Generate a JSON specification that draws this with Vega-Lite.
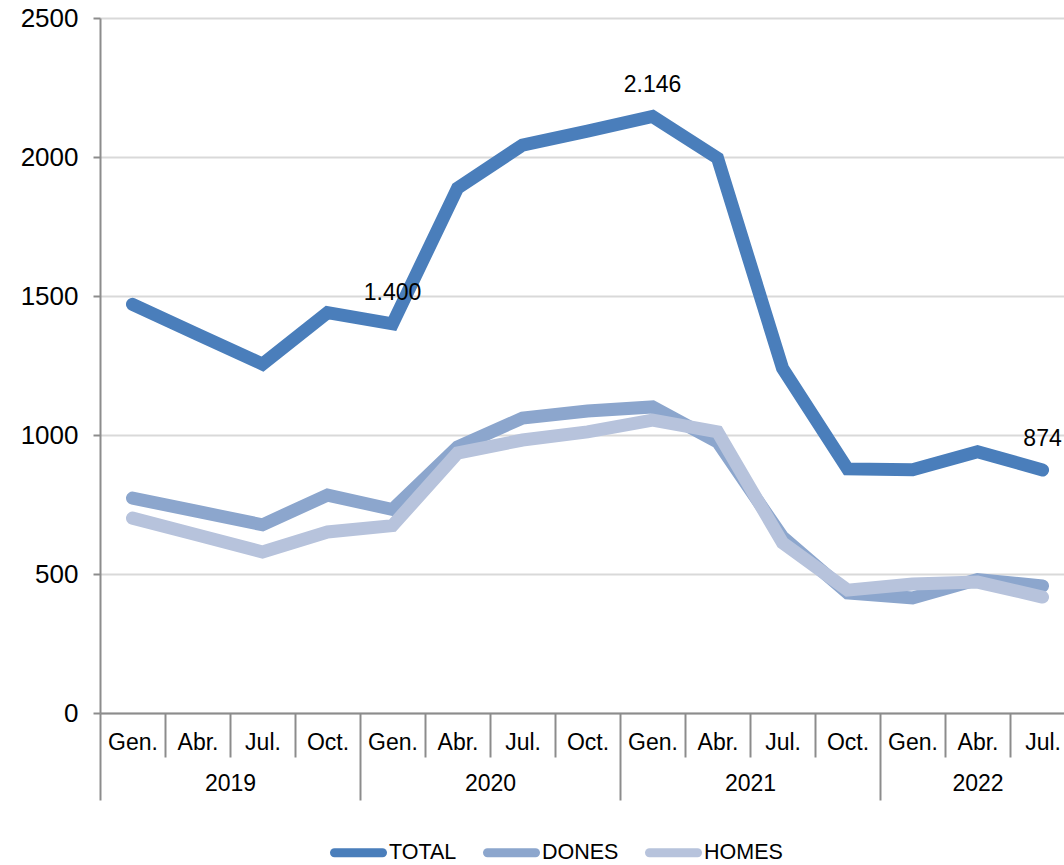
{
  "$schema": "https://vega.github.io/schema/vega-lite/v6.json",
  "autosize": {"type": "none"},
  "padding": {"left": 100, "top": 18, "right": 0, "bottom": 152},
  "width": 964,
  "height": 695,
  "config": {"view": {"stroke": null}, "font": "Liberation Sans"},
  "data": {"values": [
    {"q": 0, "series": "TOTAL", "value": 1470},
    {"q": 1, "series": "TOTAL", "value": 1362},
    {"q": 2, "series": "TOTAL", "value": 1255},
    {"q": 3, "series": "TOTAL", "value": 1440},
    {"q": 4, "series": "TOTAL", "value": 1400, "label": "1.400"},
    {"q": 5, "series": "TOTAL", "value": 1888},
    {"q": 6, "series": "TOTAL", "value": 2043},
    {"q": 7, "series": "TOTAL", "value": 2093},
    {"q": 8, "series": "TOTAL", "value": 2146, "label": "2.146"},
    {"q": 9, "series": "TOTAL", "value": 1996},
    {"q": 10, "series": "TOTAL", "value": 1240},
    {"q": 11, "series": "TOTAL", "value": 878},
    {"q": 12, "series": "TOTAL", "value": 875},
    {"q": 13, "series": "TOTAL", "value": 940},
    {"q": 14, "series": "TOTAL", "value": 874, "label": "874"},
    {"q": 0, "series": "DONES", "value": 773},
    {"q": 1, "series": "DONES", "value": 725},
    {"q": 2, "series": "DONES", "value": 677},
    {"q": 3, "series": "DONES", "value": 784},
    {"q": 4, "series": "DONES", "value": 732},
    {"q": 5, "series": "DONES", "value": 957},
    {"q": 6, "series": "DONES", "value": 1061},
    {"q": 7, "series": "DONES", "value": 1086},
    {"q": 8, "series": "DONES", "value": 1101},
    {"q": 9, "series": "DONES", "value": 975},
    {"q": 10, "series": "DONES", "value": 633},
    {"q": 11, "series": "DONES", "value": 432},
    {"q": 12, "series": "DONES", "value": 414},
    {"q": 13, "series": "DONES", "value": 480},
    {"q": 14, "series": "DONES", "value": 457},
    {"q": 0, "series": "HOMES", "value": 701},
    {"q": 1, "series": "HOMES", "value": 640},
    {"q": 2, "series": "HOMES", "value": 579},
    {"q": 3, "series": "HOMES", "value": 651},
    {"q": 4, "series": "HOMES", "value": 674},
    {"q": 5, "series": "HOMES", "value": 935},
    {"q": 6, "series": "HOMES", "value": 982},
    {"q": 7, "series": "HOMES", "value": 1011},
    {"q": 8, "series": "HOMES", "value": 1054},
    {"q": 9, "series": "HOMES", "value": 1011},
    {"q": 10, "series": "HOMES", "value": 612},
    {"q": 11, "series": "HOMES", "value": 442},
    {"q": 12, "series": "HOMES", "value": 464},
    {"q": 13, "series": "HOMES", "value": 471},
    {"q": 14, "series": "HOMES", "value": 417}
  ]},
  "encoding": {
    "y": {"field": "value", "type": "quantitative",
      "scale": {"domain": [0, 2500], "nice": false},
      "axis": {"title": null, "values": [0,500,1000,1500,2000,2500], "format": "d",
        "grid": true, "gridColor": "#d9d9d9", "gridWidth": 2,
        "domainColor": "#8c8c8c", "domainWidth": 2, "tickColor": "#8c8c8c", "tickWidth": 2, "tickSize": 7,
        "labelPadding": 15, "labelFontSize": 26, "labelColor": "#000000"}}
  },
  "resolve": {"axis": {"x": "independent"}},
  "layer": [
    {
      "mark": {"type": "line", "strokeWidth": 13, "strokeCap": "round", "strokeJoin": "miter"},
      "encoding": {
        "x": {"field": "q", "type": "quantitative",
          "scale": {"domain": [-0.5, 14.33], "nice": false, "zero": false},
          "axis": {"orient": "bottom", "title": null, "values": [0,1,2,3,4,5,6,7,8,9,10,11,12,13,14],
            "labelExpr": "['Gen.','Abr.','Jul.','Oct.'][datum.value % 4]",
            "ticks": false, "tickSize": 0, "labelPadding": 18, "grid": false,
            "domain": true, "domainColor": "#8c8c8c", "domainWidth": 2,
            "labelFontSize": 23, "labelColor": "#000000", "labelFlush": false, "labelOverlap": false, "labelBound": false}},
        "color": {"field": "series", "type": "nominal",
          "scale": {"domain": ["TOTAL", "DONES", "HOMES"], "range": ["#4a7ebb", "#8ca6cd", "#b7c3dc"]},
          "sort": ["TOTAL", "DONES", "HOMES"],
          "legend": {"title": null, "orient": "none", "legendX": 230, "legendY": 806, "direction": "horizontal",
            "symbolType": "stroke", "symbolSize": 2304, "symbolStrokeWidth": 9,
            "labelFontSize": 21.5, "labelColor": "#000000", "labelOffset": 2, "columnPadding": 12,
            "encode": {"symbols": {"update": {"strokeCap": {"value": "round"}}}}}}
      }
    },
    {
      "transform": [{"filter": "datum.label != null"}],
      "mark": {"type": "text", "fontSize": 23, "color": "#000000", "baseline": "middle", "align": "center", "dy": -31},
      "encoding": {
        "x": {"field": "q", "type": "quantitative",
          "axis": {"orient": "bottom", "title": null, "values": [0.5,1.5,2.5,4.5,5.5,6.5,8.5,9.5,10.5,12.5,13.5],
            "labels": false, "ticks": true, "tickSize": 44, "tickColor": "#8c8c8c", "tickWidth": 2,
            "domain": false, "grid": false}},
        "text": {"field": "label", "type": "nominal"}
      }
    },
    {
      "mark": {"type": "point", "opacity": 0},
      "encoding": {
        "x": {"field": "q", "type": "quantitative",
          "axis": {"orient": "bottom", "title": null, "values": [-0.5, 3.5, 7.5, 11.5],
            "labels": false, "ticks": true, "tickSize": 87, "tickColor": "#8c8c8c", "tickWidth": 2,
            "domain": false, "grid": false}}
      }
    },
    {
      "mark": {"type": "point", "opacity": 0},
      "encoding": {
        "x": {"field": "q", "type": "quantitative",
          "axis": {"orient": "bottom", "title": null, "values": [1.5, 5.5, 9.5, 13],
            "labelExpr": "datum.value < 3 ? '2019' : datum.value < 7 ? '2020' : datum.value < 11 ? '2021' : '2022'",
            "ticks": false, "tickSize": 0, "labelPadding": 59, "domain": false, "grid": false,
            "labelFontSize": 23, "labelColor": "#000000", "labelFlush": false, "labelOverlap": false, "labelBound": false}}
      }
    }
  ]
}
